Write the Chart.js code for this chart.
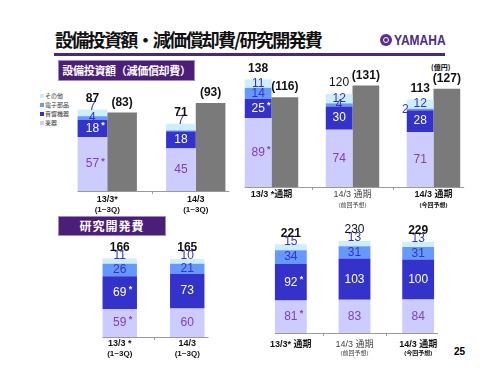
<!DOCTYPE html>
<html>
<head>
<meta charset="utf-8">
<script src="https://cdn.jsdelivr.net/npm/chart.js@4.4.1/dist/chart.umd.min.js"></script>
<style>
  body { margin: 0; width: 500px; height: 375px; background: #fff; position: relative; overflow: hidden;
         font-family: "Liberation Sans", "Noto Sans CJK JP", sans-serif; }
  .abs { position: absolute; }
  canvas { position: absolute; }
  #title { left: 55px; top: 29px; font: bold 18px "Noto Sans CJK JP"; line-height: 20px; color: #111; white-space: nowrap; letter-spacing: -1.7px; }
  #rule { left: 54px; top: 53px; width: 391px; height: 3px; background: #4b2879; }
  #emblem { left: 380px; top: 34px; width: 12px; height: 12px; border-radius: 50%; background: #5a2d91; }
  #emblem::after { content: ""; position: absolute; left: 3px; top: 3px; width: 4px; height: 4px; border: 1px solid #fff; border-radius: 50%; }
  #brand { left: 394px; top: 31px; font: bold 15px "Liberation Sans"; color: #4a2c85; transform: scaleX(0.8); transform-origin: left top; line-height: 17px; }
  .tag { background: #4b1e78; color: #fff; font: bold 11px "Noto Sans CJK JP"; text-align: center; border: 1px solid #9c8cc0; box-sizing: border-box; }
  #tag1 { left: 58px; top: 60px; width: 137px; height: 21px; line-height: 19px; letter-spacing: -0.3px; }
  #tag2 { left: 58px; top: 216px; width: 108px; height: 20px; line-height: 18px; font-size: 12px; letter-spacing: 1px; }
  #legend { left: 40px; top: 91px; font: 6px "Noto Sans CJK JP"; color: #333; line-height: 9px; }
  #legend span { display: inline-block; width: 4px; height: 4px; margin-right: 1px; vertical-align: 0; }
  #unit { left: 431px; top: 62px; font: bold 7px "Noto Sans CJK JP"; }
  #page { left: 454px; top: 346px; font: bold 10px "Liberation Sans"; }
</style>
</head>
<body>
<div id="title" class="abs">設備投資額・減価償却費/研究開発費</div>
<div id="rule" class="abs"></div>
<div id="emblem" class="abs"></div>
<div id="brand" class="abs">YAMAHA</div>
<div id="tag1" class="abs tag">設備投資額（減価償却費）</div>
<div id="tag2" class="abs tag">研究開発費</div>
<div id="legend" class="abs"></div>
<div id="unit" class="abs">(億円)</div>
<div id="page" class="abs">25</div>

<canvas id="capexQ3" width="177" height="130" style="left:63px;top:85px"></canvas>
<canvas id="capexFY" width="243" height="157" style="left:231px;top:58px"></canvas>
<canvas id="rdQ3" width="135" height="125" style="left:86px;top:238px"></canvas>
<canvas id="rdFY" width="191" height="141" style="left:259px;top:222px"></canvas>

<script>
// segment names (bottom to top)
const segNames = ['楽器', '音響機器', '電子部品', 'その他'];

// 設備投資額 1~3Q
const capexQ3Cats = [['13/3*', '(1~3Q)'], ['14/3', '(1~3Q)']];
const capexQ3Instr = [57, 45];
const capexQ3Audio = [18, 18];
const capexQ3Elec = [4, 1];
const capexQ3Other = [7, 7];
const capexQ3Total = [87, 71];
const deprQ3 = [83, 93];

// 設備投資額 通期
const capexFYCats = [['13/3 *通期', ''], ['14/3 通期', '(前回予想)'], ['14/3 通期', '(今回予想)']];
const capexFYInstr = [89, 74, 71];
const capexFYAudio = [25, 30, 28];
const capexFYElec = [14, 4, 2];
const capexFYOther = [11, 12, 12];
const capexFYTotal = [138, 120, 113];
const deprFY = [116, 131, 127];

// 研究開発費 1~3Q
const rdQ3Cats = [['13/3 *', '(1~3Q)'], ['14/3', '(1~3Q)']];
const rdQ3Instr = [59, 60];
const rdQ3Audio = [69, 73];
const rdQ3Elec = [26, 21];
const rdQ3Other = [11, 10];
const rdQ3Total = [166, 165];

// 研究開発費 通期
const rdFYCats = [['13/3* 通期', ''], ['14/3 通期', '(前回予想)'], ['14/3 通期', '(今回予想)']];
const rdFYInstr = [81, 83, 84];
const rdFYAudio = [92, 103, 100];
const rdFYElec = [34, 31, 31];
const rdFYOther = [15, 13, 13];
const rdFYTotal = [221, 230, 229];

const segColors = ['#ccccff', '#3333cc', '#6699ff', '#cceeff'];
const segText = ['#8040c0', '#ffffff', '#3333cc', '#3333cc'];
const grayColor = '#7a7a7a';

document.getElementById('legend').innerHTML = segNames.slice().reverse().map(function (n, i) {
    return '<div><span style="background:' + segColors[3 - i] + '"></span>' + n + '</div>';
}).join('');

const barLabels = {
    id: 'barLabels',
    afterDatasetsDraw(chart, args, o) {
        const ctx = chart.ctx;
        const area = chart.chartArea;
        const segMetas = [];
        ctx.save();
        ctx.textAlign = 'center';
        ctx.textBaseline = 'middle';
        chart.data.datasets.forEach(function (ds, di) {
            const meta = chart.getDatasetMeta(di);
            meta.data.forEach(function (bar, i) {
                const v = ds.data[i];
                if (ds.stack === 'seg') {
                    if (v <= 1) return;
                    const h = Math.abs(bar.base - bar.y);
                    let cy = (bar.y + bar.base) / 2;
                    // small top segment: lift the label a bit, like the slide
                    if (di === 3 && h < 8) cy = bar.y - 3;
                    ctx.fillStyle = segText[di];
                    ctx.font = '12px "Liberation Sans"';
                    if (v <= 2) {
                        ctx.textAlign = 'right';
                        ctx.fillText(v, bar.x - bar.width / 2 + 2, cy);
                        ctx.textAlign = 'center';
                        return;
                    }
                    ctx.fillText(v, bar.x, cy);
                    if (o.starred.includes(i) && di < 2) {
                        const w = ctx.measureText(String(v)).width;
                        ctx.font = 'bold 9px "Liberation Sans"';
                        ctx.fillText('*', bar.x + w / 2 + 4, cy - 3);
                    }
                } else {
                    ctx.fillStyle = '#111';
                    ctx.font = 'bold 12px "Liberation Sans"';
                    ctx.fillText('(' + v + ')', bar.x, bar.y - 10);
                }
            });
            if (ds.stack === 'seg') segMetas.push(meta);
        });
        // totals and category labels
        const first = segMetas[0];
        first.data.forEach(function (bar, i) {
            const top = Math.min.apply(null, segMetas.map(function (m) { return m.data[i].y; }));
            const light = o.light.includes(i);
            ctx.fillStyle = '#111';
            ctx.font = (light ? '' : 'bold ') + '12px "Liberation Sans"';
            ctx.fillText(o.totals[i], bar.x, top - 11);
            const metas = chart.getSortedVisibleDatasetMetas();
            const last = metas[metas.length - 1].data[i];
            const cx = (bar.x - bar.width / 2 + last.x + last.width / 2) / 2;
            const lab = chart.data.labels[i];
            ctx.font = (light ? '' : 'bold ') + '9px "Liberation Sans", "Noto Sans CJK JP"';
            ctx.fillStyle = light ? '#444' : '#111';
            ctx.fillText(lab[0], cx, area.bottom + o.lineY[0]);
            if (lab[1]) {
                ctx.font = (light ? '' : 'bold ') + (lab[1].indexOf('Q') > 0 ? '8px' : '6px') + ' "Liberation Sans", "Noto Sans CJK JP"';
                ctx.fillText(lab[1], cx, area.bottom + o.lineY[1]);
            }
        });
        // base line
        const lastMeta = chart.getSortedVisibleDatasetMetas().slice(-1)[0];
        const x0 = first.data[0].x - first.data[0].width / 2;
        const lb = lastMeta.data[lastMeta.data.length - 1];
        const x1 = lb.x + lb.width / 2 + 4;
        ctx.strokeStyle = '#9a9a9a';
        ctx.lineWidth = 1;
        ctx.beginPath();
        ctx.moveTo(x0, area.bottom + 0.5);
        ctx.lineTo(x1, area.bottom + 0.5);
        const xs = chart.scales.x;
        for (let k = 1; k < chart.data.labels.length; k++) {
            const bx = Math.round((xs.getPixelForValue(k - 1) + xs.getPixelForValue(k)) / 2) + 0.5;
            ctx.moveTo(bx, area.bottom);
            ctx.lineTo(bx, area.bottom + 3);
        }
        ctx.stroke();
        ctx.restore();
    }
};

function makeChart(id, cats, segs, gray, opts) {
    const datasets = segs.map(function (d, k) {
        return { label: segNames[k], data: d, backgroundColor: segColors[k], stack: 'seg' };
    });
    if (gray) datasets.push({ label: '減価償却費', data: gray, backgroundColor: grayColor, stack: 'dep' });
    return new Chart(document.getElementById(id), {
        type: 'bar',
        data: { labels: cats, datasets: datasets },
        options: {
            responsive: false,
            animation: false,
            layout: { padding: opts.padding },
            datasets: { bar: { categoryPercentage: opts.catPct, barPercentage: 1, borderWidth: 0 } },
            plugins: {
                legend: { display: false },
                tooltip: { enabled: false },
                barLabels: { totals: opts.totals, starred: [0], light: opts.light, lineY: opts.lineY }
            },
            scales: {
                x: { display: false, stacked: true },
                y: { display: false, stacked: true, min: 0, max: opts.max }
            }
        },
        plugins: [barLabels]
    });
}

makeChart('capexQ3', capexQ3Cats, [capexQ3Instr, capexQ3Audio, capexQ3Elec, capexQ3Other], deprQ3,
    { padding: { top: 0, bottom: 24, left: 0, right: 0 }, catPct: 0.67, max: 112, totals: capexQ3Total, light: [], lineY: [9, 19] });
makeChart('capexFY', capexFYCats, [capexFYInstr, capexFYAudio, capexFYElec, capexFYOther], deprFY,
    { padding: { top: 2, bottom: 28, left: 0, right: 0 }, catPct: 0.66, max: 164, totals: capexFYTotal, light: [1], lineY: [8, 18] });
makeChart('rdQ3', rdQ3Cats, [rdQ3Instr, rdQ3Audio, rdQ3Elec, rdQ3Other], null,
    { padding: { top: 2, bottom: 26, left: 0, right: 0 }, catPct: 0.51, max: 204, totals: rdQ3Total, light: [], lineY: [7, 17] });
makeChart('rdFY', rdFYCats, [rdFYInstr, rdFYAudio, rdFYElec, rdFYOther], null,
    { padding: { top: 3, bottom: 30, left: 0, right: 0 }, catPct: 0.5, max: 270, totals: rdFYTotal, light: [1], lineY: [12, 20] });
</script>
</body>
</html>
